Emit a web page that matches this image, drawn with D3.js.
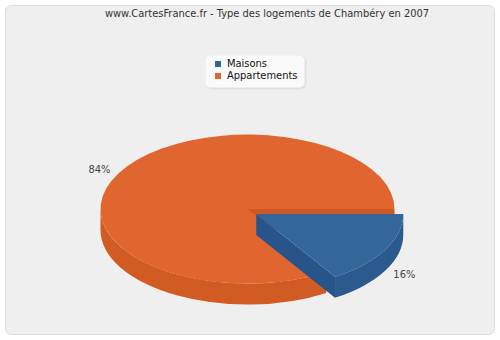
<!DOCTYPE html>
<html>
<head>
<meta charset="utf-8">
<script src="https://cdn.jsdelivr.net/npm/d3@7"></script>
<style>
  body { margin: 0; background: #fff; }
  text { font-family: "DejaVu Sans Condensed", "Liberation Sans", sans-serif; }
</style>
</head>
<body>
<div id="chart"></div>
<script>
// data
var categories = ["Maisons", "Appartements"];
var values = [16, 84];
var labels = ["16%", "84%"];
var colors = ["#336699", "#E1652E"];
var sideColors = ["#2A5A8E", "#D25A23"];
var faceColors = ["#27548A", "#CF5822"];

var W = 500, H = 340;
var svg = d3.select("#chart").append("svg")
    .attr("width", W)
    .attr("height", H);

// panel
svg.append("rect")
    .attr("x", 5.5).attr("y", 5.5)
    .attr("width", 489).attr("height", 329)
    .attr("rx", 6)
    .attr("fill", "#EFEFEF")
    .attr("stroke", "#DCDCDC");

svg.append("text")
    .attr("x", 267).attr("y", 17)
    .attr("text-anchor", "middle")
    .attr("font-size", 11)
    .attr("fill", "#333")
    .text("www.CartesFrance.fr - Type des logements de Chambéry en 2007");

// legend
var defs = svg.append("defs");
var f = defs.append("filter").attr("id", "sh").attr("x", "-20%").attr("y", "-20%").attr("width", "140%").attr("height", "150%");
f.append("feDropShadow").attr("dx", 1).attr("dy", 1).attr("stdDeviation", 1).attr("flood-color", "#000").attr("flood-opacity", 0.12);

svg.append("rect")
    .attr("x", 205.5).attr("y", 55.5)
    .attr("width", 99).attr("height", 32)
    .attr("rx", 5)
    .attr("fill", "#FAFAFA")
    .attr("filter", "url(#sh)");

var leg = svg.selectAll("g.leg")
    .data(categories)
    .enter().append("g")
    .attr("class", "leg")
    .attr("transform", function(d, i) { return "translate(215," + (61 + i * 12) + ")"; });
leg.append("rect")
    .attr("width", 6).attr("height", 6)
    .attr("fill", function(d, i) { return colors[i]; });
leg.append("text")
    .attr("x", 12).attr("y", 6)
    .attr("font-size", 11)
    .attr("fill", "#111")
    .text(function(d) { return d; });

// 3d pie
var cx = 251, cy = 211, rx = 147, ry = 74.5, depth = 21;
var explode = [6, 4];

var pie = d3.pie().sort(null).startAngle(Math.PI / 2).endAngle(Math.PI / 2 + 2 * Math.PI);
var arcs = pie(values).map(function(a, i) {
  var t0 = a.startAngle - Math.PI / 2, t1 = a.endAngle - Math.PI / 2;
  var tm = (t0 + t1) / 2;
  return { i: i, t0: t0, t1: t1, tm: tm,
           ox: cx + explode[i] * Math.cos(tm),
           oy: cy + explode[i] * Math.sin(tm) };
});

function pt(a, t, dy) {
  return [a.ox + rx * Math.cos(t), a.oy + ry * Math.sin(t) + (dy || 0)];
}

function topPath(a) {
  var p0 = pt(a, a.t0), p1 = pt(a, a.t1);
  var large = (a.t1 - a.t0) > Math.PI ? 1 : 0;
  return "M" + a.ox + "," + a.oy + "L" + p0 + "A" + rx + "," + ry + " 0 " + large + " 1 " + p1 + "Z";
}

function wallPath(a, s, e) {
  var p0 = pt(a, s), p1 = pt(a, e), q0 = pt(a, s, depth), q1 = pt(a, e, depth);
  return "M" + p0 + "A" + rx + "," + ry + " 0 0 1 " + p1 + "L" + q1 +
         "A" + rx + "," + ry + " 0 0 0 " + q0 + "Z";
}

function facePath(a, t) {
  var p = pt(a, t);
  return "M" + a.ox + "," + a.oy + "L" + p + "L" + [p[0], p[1] + depth] +
         "L" + [a.ox, a.oy + depth] + "Z";
}

// visible front parts of an angle range
function frontRanges(t0, t1) {
  var out = [];
  [[0, Math.PI], [2 * Math.PI, 3 * Math.PI]].forEach(function(r) {
    var s = Math.max(t0, r[0]), e = Math.min(t1, r[1]);
    if (e > s) out.push([s, e]);
  });
  return out;
}

// draw order: orange (back) first, then blue
var order = [1, 0];
order.forEach(function(k) {
  var a = arcs[k];
  var g = svg.append("g");
  // radial faces facing the viewer
  [a.t0, a.t1].forEach(function(t, j) {
    var nt = j === 0 ? t - Math.PI / 2 : t + Math.PI / 2;
    if (Math.sin(nt) > 0.01) {
      g.append("path").attr("d", facePath(a, t)).attr("fill", faceColors[k]);
    }
  });
  frontRanges(a.t0, a.t1).forEach(function(r) {
    g.append("path").attr("d", wallPath(a, r[0], r[1])).attr("fill", sideColors[k]);
  });
  g.append("path").attr("d", topPath(a)).attr("fill", colors[k]);
});

// percentage labels
svg.selectAll("text.pct")
  .data(arcs)
  .enter().append("text")
  .attr("class", "pct")
  .attr("x", function(a) { return a.ox + (rx + 22) * Math.cos(a.tm); })
  .attr("y", function(a) {
    var s = Math.sin(a.tm);
    return a.oy + (ry + 10) * s + (s > 0 ? depth - 3 : 0) + 5;
  })
  .attr("text-anchor", "middle")
  .attr("font-size", 11)
  .attr("fill", "#444")
  .text(function(a) { return labels[a.i]; });
</script>
</body>
</html>
